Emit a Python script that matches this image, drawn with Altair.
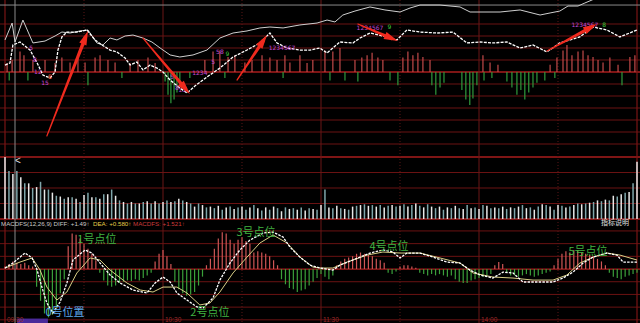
import math
import altair as alt
import pandas as pd

# ---------------- price panel (top) ----------------
upper_min = [0, 2.7, 3.8, 6.8, 10.6, 15.2, 19, 21.6, 24.7, 28.5, 31.5, 34.9, 37.2, 39.9, 42.5, 45.6, 48.6, 52.4, 55.8, 58.9,
             62.7, 66.4, 71.4, 76.7, 81.6, 86.6, 91.9, 96.8, 100.6, 105.6, 112, 118.5, 122.3, 125.3, 128.3, 132.9, 138.6, 144.3, 150, 153.8,
             157.6, 165.2, 172.8, 176.6, 188, 195.6, 203.2, 207, 210.7, 213.8, 217.6, 220.2, 222.9, 225.9, 240]
upper_val = [2.67, 4.08, 2.5, 4.33, 2.42, 2.58, 3.0, 3.33, 3.25, 3.42, 3.5, 2.42, 2.25, 2.83, 2.67, 3.0, 3.08, 2.83, 2.5, 2.0,
             1.42, 1.25, 1.42, 1.83, 2.83, 3.25, 3.42, 3.67, 3.75, 3.67, 3.92, 4.08, 4.33, 4.17, 4.75, 5.08, 5.42, 5.17, 5.0, 5.33,
             5.58, 5.58, 5.42, 5.0, 5.0, 5.17, 4.75, 4.92, 5.08, 5.5, 5.5, 5.75, 6.0, 6.33, 7.0]

lower_min = [0, 1.9, 3.0, 5.7, 9.5, 12.2, 14.4, 17.1, 19.0, 20.1, 21.6, 23.5, 27.3, 31.1, 34.2, 36.8, 39.9, 42.5, 45.6, 47.5,
             50.1, 52.4, 55.1, 57.7, 60.0, 62.7, 66.4, 69.1, 72.1, 76.7, 81.6, 86.6, 91.9, 96.8, 100.6, 103.3, 107.1, 112.0, 115.8, 119.6,
             122.3, 124.5, 127.2, 132.1, 134.8, 138.6, 145.0, 148.8, 152.6, 157.6, 164.0, 170.1, 175.4, 180.4, 185.3, 190.6, 195.6, 200.5, 205.8, 210.7,
             218.3, 223.3, 228.6, 233.5, 240]
lower_val = [0.58, 0.75, 2.25, 2.5, 1.83, 0.75, -0.25, -0.5, 0.0, 1.83, 2.92, 3.33, 3.33, 3.5, 2.67, 2.25, 1.83, 1.67, 1.17, 0.58,
             0.83, 0.17, 0.58, 0.33, 0.0, -0.67, -1.33, -1.75, -1.17, -0.42, 0.33, 1.25, 1.83, 2.42, 3.25, 2.42, 2.0, 1.83, 1.83, 2.0,
             1.58, 2.0, 2.5, 2.42, 2.83, 3.25, 2.92, 2.67, 3.5, 3.33, 3.25, 3.33, 2.42, 2.5, 2.42, 2.5, 2.0, 2.25, 1.67, 2.42,
             2.92, 3.75, 3.5, 2.92, 3.5]

tbar_min = [0.8, 2.7, 5.7, 7.2, 10.6, 15.2, 19, 21.6, 24.7, 27.7, 30.4, 34.2, 36.1, 39.1, 41.8, 47.5, 50.5, 54.3, 57, 75.9,
            79, 81.6, 84.7, 87.3, 91.1, 93.8, 97.6, 100.6, 103.3, 106.3, 108.2, 112, 114.7, 116.9, 121.5, 124.5, 127.2, 132.9, 135.5, 137.5,
            139.4, 141.6, 143.5, 151.1, 153, 154.9, 156.8, 158.7, 161.4, 181.5, 184.2, 187.2, 207, 209.6, 211.9, 213.4, 215.3, 217.6, 219.5, 221.4,
            223.3, 225.2, 227.1, 229.7, 232.8, 237.3, 239.2,
            1.6, 8.7, 31.5, 44.4, 60.8, 61.9, 63.0, 64.2, 65.3, 66.4, 70.2, 83.5, 105.6, 123.4, 129.1, 134, 146.2, 149.2, 162.1, 163.6,
            165.2, 166.7, 173.5, 175, 176.5, 177.7, 179.2, 181.9, 184.9, 190.6, 192.5, 194.4, 195.9, 197.4, 198.9, 200.5, 202, 205, 208.8, 234.3]
tbar_val = [0.75, 1.0, 1.7, 1.4, 1.0, 1.0, 0.75, 1.2, 0.8, 1.4, 0.8, 1.2, 1.4, 1.0, 0.8, 0.75, 1.0, 1.2, 0.75, 1.0,
            1.7, 1.8, 1.25, 1.4, 0.8, 1.0, 1.4, 1.2, 1.0, 1.4, 0.8, 1.4, 0.75, 1.0, 1.8, 1.7, 2.0, 1.0, 1.2, 1.4,
            1.6, 1.2, 1.0, 1.2, 1.7, 1.4, 1.6, 1.25, 1.0, 1.4, 0.8, 0.6, 0.6, 1.2, 1.8, 2.25, 1.4, 1.7, 1.8, 1.4,
            1.25, 1.0, 0.8, 1.2, 0.6, 1.25, 1.4,
            -0.7, -0.7, -1.1, -0.5, -0.8, -1.9, -2.6, -2.3, -1.7, -1.1, -0.5, -0.5, -0.5, -0.7, -0.7, -0.8, -0.7, -1.1, -1.1, -1.9,
            -1.3, -0.9, -1.5, -2.3, -2.75, -2.2, -1.1, -0.7, -0.5, -0.8, -1.3, -1.9, -1.5, -2.3, -1.7, -1.3, -0.9, -0.7, -0.5, -1.1]

# arrows drawn on the price panel (tail -> tip)
arrow_tail_min = [15.9, 52.4, 88.1, 134.0, 205.8]
arrow_tail_val = [-5.33, 2.83, -0.67, 4.0, 1.75]
arrow_tip_min = [31.5, 70.2, 99.5, 149.2, 224.8]
arrow_tip_val = [3.42, -1.83, 3.08, 2.58, 4.0]

# small counting marks on the price line
ann_min = [9.9, 11.4, 12.5, 15.2, 17.1, 63.4, 65.3, 67.2, 74, 79, 81.6, 84.5, 105.2, 138.6, 146.0, 220.2, 227.5]
ann_val = [2.0, 1.0, 0.0, -0.9, -0.4, -0.42, -1.33, -1.5, -0.1, 0.83, 1.67, 1.5, 2.0, 3.67, 3.75, 3.9, 3.9]
ann_txt = ["5", "8", "12", "15", "8", "5", "8", "13", "1234", "5", "58", "9", "1234567", "1234567", "9", "1234567", "8"]
ann_kind = ["p", "p", "p", "p", "r", "p", "p", "p", "p", "p", "p", "g", "p", "p", "g", "p", "g"]

# ---------------- volume panel ----------------
vol_val = [4.0, 3.1, 2.9, 3.1, 2.7, 2.3, 2.3, 2.0, 2.06, 2.4, 1.9, 1.9, 1.7, 1.5, 1.45, 1.3, 1.4, 1.4, 1.3, 1.1,
           1.55, 1.7, 1.4, 1.4, 1.3, 1.6, 1.6, 1.9, 1.5, 1.2, 1.1, 1.0, 1.1, 1.0, 1.0, 1.1, 1.15, 1.0, 1.15, 1.0,
           1.1, 1.2, 1.1, 1.15, 1.3, 1.2, 1.1, 1.0, 0.8, 1.0, 0.9, 0.75, 0.8, 0.7, 0.85, 0.6, 0.75, 0.8, 0.65, 0.75,
           0.8, 0.6, 0.75, 0.9, 0.7, 0.55, 0.75, 0.6, 0.8, 0.7, 0.5, 0.75, 0.65, 0.7, 0.6, 0.75, 0.55, 0.7, 0.65, 0.6,
           0.9, 1.9, 0.75, 0.7, 0.85, 0.7, 0.65, 0.6, 0.8, 0.85, 0.9, 0.95, 0.85, 0.9, 0.8, 0.9, 0.75, 0.85, 0.9, 0.8,
           0.85, 0.95, 0.8, 0.9, 1.0, 0.85, 0.75, 0.95, 0.8, 0.7, 0.8, 0.6, 0.75, 0.7, 0.85, 0.7, 0.65, 0.9, 0.7, 0.75,
           0.65, 0.9, 0.85, 0.7, 0.75, 0.7, 0.8, 0.65, 0.75, 0.7, 0.8, 0.9, 0.7, 0.75, 0.6, 0.8, 0.95, 0.9, 0.8, 0.6,
           0.9, 0.85, 0.75, 0.8, 0.9, 1.0, 0.95, 1.0, 1.05, 1.1, 1.2, 1.15, 1.25, 1.2, 1.5, 1.45, 1.6, 1.7, 1.75, 2.3,
           3.7]

# ---------------- MACD panel ----------------
diff_min = [0, 3.0, 7.6, 10.3, 12.2, 14.0, 15.9, 18.2, 20.9, 23.5, 25.8, 30.4, 33.0, 36.1, 39.9, 43.7, 48.6, 53.9, 57.0, 60.0,
            62.7, 65.3, 69.1, 72.9, 75.2, 79.0, 81.6, 85.4, 89.2, 93.0, 98.0, 101.8, 105.6, 108.2, 112.0, 115.8, 119.6, 124.5, 127.2, 132.1,
            138.6, 143.5, 147.3, 150.0, 152.6, 157.6, 162.5, 167.8, 172.8, 176.6, 180.4, 185.3, 189.1, 192.9, 196.7, 203.1, 208.1, 211.9, 215.7, 219.5,
            223.3, 228.6, 232.4, 234.7, 240]
diff_val = [0.08, 0.47, 1.26, 0.87, -0.08, -1.42, -2.68, -3.46, -2.6, -1.1, 0.71, 1.5, 1.26, 0.47, -0.47, -1.1, -1.65, -1.89, -1.1, -0.63,
            -1.02, -1.89, -2.44, -2.99, -3.07, -2.28, -0.87, 0.47, 1.5, 2.28, 2.83, 2.91, 2.52, 1.73, 0.94, 0.31, 0.08, -0.08, 0.31, 0.71,
            1.26, 1.5, 1.34, 0.87, 1.26, 1.26, 0.94, 0.55, 0.47, -0.08, -0.47, -0.71, -0.24, -0.31, -1.02, -1.02, -1.02, -0.71, -0.24, 0.47,
            0.94, 1.26, 1.1, 0.55, 0.55]
dea_min = [0, 5.7, 10.3, 13.3, 15.9, 19.7, 23.5, 27.3, 32.3, 36.1, 39.9, 46.3, 51.3, 56.2, 60.0, 65.3, 69.1, 74.0, 77.8, 81.6,
           86.6, 91.9, 96.8, 101.8, 107.1, 112.0, 116.9, 119.6, 124.5, 129.9, 137.5, 143.5, 150.0, 157.6, 165.2, 172.8, 177.7, 185.3, 192.9, 200.5,
           208.1, 213.4, 218.3, 223.3, 228.6, 233.5, 240]
dea_val = [0.08, 0.55, 0.87, -0.08, -1.42, -2.44, -1.81, -0.31, 0.87, 0.71, -0.08, -1.1, -1.65, -1.81, -1.42, -1.42, -1.89, -2.83, -2.68, -1.81,
           -0.31, 0.94, 2.05, 2.68, 2.05, 0.94, 0.16, 0.08, 0.08, 0.55, 1.1, 1.34, 1.26, 1.26, 0.87, 0.47, -0.31, -0.63, -0.71, -0.87,
           -0.87, -0.47, 0.47, 0.94, 1.26, 1.1, 0.71]
hist_val = [0.2, 0.4, 0.6, 0.5, 0.4, 0.5, 0.3, 0.2,
            -1.4, -2.5, -3.5, -3.8, -3.6, -3.1, -1.9, -0.8,
            1.8, 2.8, 2.7, 2.4, 2.0, 1.6, 1.2, 0.7, -0.3,
            -0.9, -1.3, -1.4, -1.3, -1.1, -1.0, -0.9, -0.95, -0.8, -0.9, -0.7, -0.5, -0.3,
            0.6, 1.2, 1.5, 1.0, 0.4,
            -1.0, -1.6, -1.9, -2.1, -2.0, -1.8, -1.3, -0.6,
            0.3, 0.8, 1.6, 2.4, 2.9, 2.8, 2.3, 2.0, 2.3, 2.5, 2.2, 2.0, 1.3, 1.4, 1.3, 1.2, 1.0, 0.7, 0.3,
            -0.8, -1.2, -1.5, -1.6, -1.8, -1.7, -1.6, -1.3, -1.0, -0.7,
            -0.4, -0.6, -0.8, -0.5,
            0.3, 0.6, 0.8, 0.9, 1.0, 1.2, 1.3, 1.2, 1.1, 1.0, 0.8, 0.7, 0.5,
            -0.3, -0.4, -0.2,
            0.2, 0.3, 0.3, 0.2, 0.1,
            -0.3, -0.4, -0.5, -0.4, -0.5, -0.4, -0.5, -0.6, -0.5, -0.8, -1.0, -1.1, -1.1, -0.9, -0.8, -0.7, -0.6, -0.5, -0.4, 0.3, 0.55, 0.4, -0.3,
            -0.5, -0.5, -0.6, -0.5, -0.4, -0.5, -0.6, -0.5, -0.4, -0.3, -0.2,
            0.3, 0.8, 1.2, 1.4, 1.3, 1.5, 1.4, 1.3, 1.2, 1.1, 1.0, 0.8, 0.6, 0.3,
            -0.3, -0.6, -0.7, -0.8, -0.6, -0.5, -0.4, -0.3]

point_txt = ["1号点位", "3号点位", "4号点位", "5号点位", "2号点位", "0号位置"]
point_min = [34.9, 95.3, 145.8, 221.4, 77.8, 22.8]
point_val = [2.28, 2.83, 1.73, 1.34, -3.46, -3.46]
point_kind = ["g", "g", "g", "g", "g", "b"]

time_txt = ["09:30", "10:30", "11:30", "14:00"]
time_min = [0, 60, 120, 180]

# ---------------- scales ----------------
X = alt.Scale(domain=[0, 240], range=[5, 637], zero=False, nice=False)
TOP = alt.Scale(domain=[-7.083, 6.0], range=[157, 0], zero=False, nice=False)
VOL = alt.Scale(domain=[0, 4], range=[219, 157], zero=False, nice=False)
MAC = alt.Scale(domain=[-4.25, 3.94], range=[323, 219], zero=False, nice=False)
PXM = 632 / 240.0
PXU = 157 / 13.083


def xe(f="m"):
    return alt.X(f"{f}:Q", scale=X, axis=None)


def ye(scale, f="v"):
    return alt.Y(f"{f}:Q", scale=scale, axis=None)


def hrules(vals, scale, color, width=1.0, dash=None):
    kw = dict(color=color, strokeWidth=width)
    if dash:
        kw["strokeDash"] = dash
    return alt.Chart(pd.DataFrame({"v": vals})).mark_rule(**kw).encode(y=ye(scale))


def vrules(vals, color, width=1.0, dash=None):
    kw = dict(color=color, strokeWidth=width)
    if dash:
        kw["strokeDash"] = dash
    return alt.Chart(pd.DataFrame({"m": vals})).mark_rule(**kw).encode(x=xe())


GRID = "#6a1212"
ZERO = "#a81c1c"

layers = []
# grid
layers.append(hrules([4, 3, 2, 1, -1, -2, -3, -4, -5, -6], TOP, GRID))
layers.append(hrules([3, 2, 1], VOL, GRID))
layers.append(hrules([3, 2, 1, -1, -2, -3, -4], MAC, GRID))
layers.append(hrules([0], TOP, ZERO, 1.4))
layers.append(hrules([0, 4], VOL, ZERO, 1.4))
layers.append(hrules([0], MAC, ZERO, 1.2))
layers.append(vrules([60, 120, 180], "#6a1616"))
layers.append(vrules([30, 90, 150, 210], "#5a1616", 1, [1, 2]))
layers.append(vrules([0, 240], "#7a1515", 1.2))
# cursor cross
layers.append(hrules([5.58], TOP, "#8a8a8a", 1))
layers.append(vrules([3.8], "#8a8a8a", 1))

# top bars
tb = pd.DataFrame({"m": tbar_min, "v": tbar_val})
tb["c"] = ["#c24a4a" if v > 0 else "#2f9a3c" for v in tb["v"]]
layers.append(alt.Chart(tb).mark_rule(strokeWidth=1.2).encode(
    x=xe(), y=ye(TOP), y2=alt.datum(0), color=alt.Color("c:N", scale=None)))

# price lines
layers.append(alt.Chart(pd.DataFrame({"m": upper_min, "v": upper_val})).mark_line(
    color="#cfcfcf", strokeWidth=1, clip=True).encode(x=xe(), y=ye(TOP)))
layers.append(alt.Chart(pd.DataFrame({"m": lower_min, "v": lower_val})).mark_line(
    color="#ffffff", strokeWidth=1.3, strokeDash=[3, 1.2], clip=True).encode(x=xe(), y=ye(TOP)))

# annotations
ann = pd.DataFrame({"m": ann_min, "v": ann_val, "t": ann_txt, "k": ann_kind})
layers.append(alt.Chart(ann).mark_text(fontSize=6, font="DejaVu Sans").encode(
    x=xe(), y=ye(TOP), text="t:N",
    color=alt.Color("k:N", scale=alt.Scale(domain=["p", "g", "r"], range=["#c04ad8", "#3ccc3c", "#ff5a3a"]), legend=None)))

# arrows
rows, heads = [], []
for i in range(len(arrow_tail_min)):
    dxp = (arrow_tip_min[i] - arrow_tail_min[i]) * PXM
    dyp = -(arrow_tip_val[i] - arrow_tail_val[i]) * PXU
    L = math.hypot(dxp, dyp)
    ux, uy = dxp / L, dyp / L
    hm = arrow_tip_min[i] - 7 * ux / PXM
    hv = arrow_tip_val[i] + 7 * uy / PXU
    rows.append({"id": i, "o": 0, "m": arrow_tail_min[i], "v": arrow_tail_val[i], "w": 1.2})
    rows.append({"id": i, "o": 1, "m": hm, "v": hv, "w": 3.6})
    heads.append({"m": hm, "v": hv, "a": math.degrees(math.atan2(ux, -uy)) % 360})
layers.append(alt.Chart(pd.DataFrame(rows)).mark_trail(color="#f02a1e").encode(
    x=xe(), y=ye(TOP), size=alt.Size("w:Q", scale=None, legend=None), detail="id:N", order="o:Q"))
layers.append(alt.Chart(pd.DataFrame(heads)).mark_point(
    shape="M0,-1L0.55,1L-0.55,1Z", filled=True, color="#f02a1e", opacity=1, size=196, strokeWidth=0).encode(
    x=xe(), y=ye(TOP), angle=alt.Angle("a:Q", scale=None)))

# volume
vd = pd.DataFrame({"m": [i * 1.5 for i in range(len(vol_val))], "v": vol_val})
vd["c"] = ["#e8e8e8" if i % 2 == 0 else "#7fa6aa" for i in range(len(vd))]
layers.append(alt.Chart(vd).mark_rule(strokeWidth=1.5).encode(
    x=xe(), y=ye(VOL), y2=alt.datum(0), color=alt.Color("c:N", scale=None)))

# MACD histogram + lines
hd = pd.DataFrame({"m": [i * 1.5 for i in range(len(hist_val))], "v": hist_val})
hd["c"] = ["#cf5656" if v > 0 else "#3aa03a" for v in hd["v"]]
layers.append(alt.Chart(hd).mark_rule(strokeWidth=1.2).encode(
    x=xe(), y=ye(MAC), y2=alt.datum(0), color=alt.Color("c:N", scale=None)))
layers.append(alt.Chart(pd.DataFrame({"m": dea_min, "v": dea_val})).mark_line(
    color="#d9cf86", strokeWidth=1).encode(x=xe(), y=ye(MAC)))
layers.append(alt.Chart(pd.DataFrame({"m": diff_min, "v": diff_val})).mark_line(
    color="#ffffff", strokeWidth=1.3, strokeDash=[2.5, 1.2]).encode(x=xe(), y=ye(MAC)))

pt = pd.DataFrame({"m": point_min, "v": point_val, "t": point_txt, "k": point_kind})
layers.append(alt.Chart(pt).mark_text(fontSize=11, font="Noto Sans CJK SC").encode(
    x=xe(), y=ye(MAC), text="t:N",
    color=alt.Color("k:N", scale=alt.Scale(domain=["g", "b"], range=["#42b442", "#5ea8ec"]), legend=None)))

# time labels and cursor tag
layers.append(alt.Chart(pd.DataFrame({"m": [4.6], "m2": [16.3], "v": [-3.9], "v2": [-4.25]})).mark_rect(
    color="#4a2a9a").encode(x=xe(), x2="m2:Q", y=ye(MAC), y2="v2:Q"))
layers.append(alt.Chart(pd.DataFrame({"m": time_min, "v": [-4.25] * len(time_min), "t": time_txt})).mark_text(
    fontSize=6.5, font="Liberation Sans", align="left", baseline="bottom", dx=2, dy=-0.5, color="#9a2a2a").encode(
    x=xe(), y=ye(MAC), text="t:N"))

# header text of MACD panel
hdr = [("MACDFS(12,26,9) DIFF: +1.49↑", 1, "#c8c8c8"), ("DEA: +0.580↑", 93, "#e2cf48"), ("MACDFS: +1.521↑", 133, "#cc3c3c")]
for t, xp, c in hdr:
    layers.append(alt.Chart(pd.DataFrame({"t": [t]})).mark_text(
        fontSize=6.2, font="Liberation Sans", align="left", baseline="middle", color=c).encode(
        x=alt.value(xp), y=alt.value(224), text="t:N"))

# UI bits
layers.append(alt.Chart(pd.DataFrame({"t": ["<"]})).mark_text(
    fontSize=10, color="#dddddd", align="left", baseline="middle").encode(x=alt.value(15), y=alt.value(161), text="t:N"))
layers.append(alt.Chart(pd.DataFrame({"t": ["指标说明"]})).mark_text(
    fontSize=7, color="#e0e0e0", font="Noto Sans CJK SC", align="left", baseline="middle").encode(
    x=alt.value(601), y=alt.value(223), text="t:N"))

chart = alt.layer(*layers).resolve_scale(y="independent", color="independent", size="independent").properties(
    width=640, height=323, background="#000000", padding=0,
    autosize=alt.AutoSizeParams(type="none")
).configure_view(stroke=None)

chart.save("out.html", embed_options={"renderer": "svg", "actions": False})
